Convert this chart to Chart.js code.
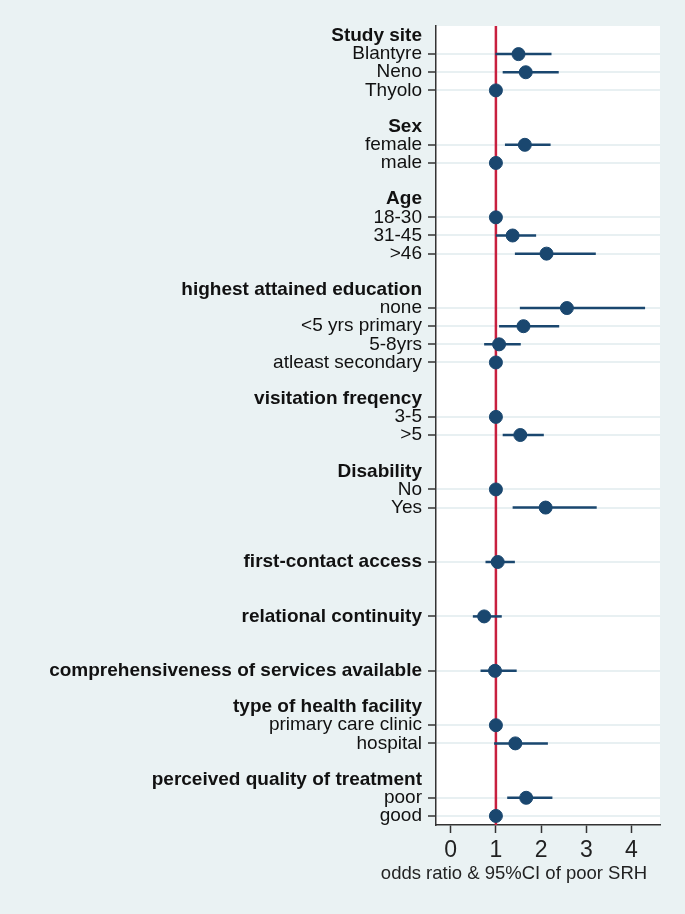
<!DOCTYPE html>
<html>
<head>
<meta charset="utf-8">
<script src="https://cdn.jsdelivr.net/npm/chart.js@4"></script>
<style>
  html, body { margin: 0; padding: 0; background: #eaf2f3; }
  #chart { display: block; }
</style>
</head>
<body>
<canvas id="chart" width="685" height="914"></canvas>
<script>
// one entry per row of the plot, '' = empty spacer row
const rowLabels = [
    'Study site', 'Blantyre', 'Neno', 'Thyolo', '',
    'Sex', 'female', 'male', '',
    'Age', '18-30', '31-45', '>46', '',
    'highest attained education', 'none', '<5 yrs primary', '5-8yrs', 'atleast secondary', '',
    'visitation freqency', '3-5', '>5', '',
    'Disability', 'No', 'Yes', '', '',
    'first-contact access', '', '',
    'relational continuity', '', '',
    'comprehensiveness of services available', '',
    'type of health facility', 'primary care clinic', 'hospital', '',
    'perceived quality of treatment', 'poor', 'good'
]

const boldLabels = [
    'Study site', 'Sex', 'Age', 'highest attained education', 'visitation freqency',
    'Disability', 'first-contact access', 'relational continuity',
    'comprehensiveness of services available', 'type of health facility',
    'perceived quality of treatment'
]

const oddsRatio = [
    null, 1.50, 1.66, 1.00, null,
    null, 1.64, 1.00, null,
    null, 1.00, 1.37, 2.12, null,
    null, 2.57, 1.61, 1.07, 1.00, null,
    null, 1.00, 1.54, null,
    null, 1.00, 2.10, null, null,
    1.04, null, null,
    0.74, null, null,
    0.98, null,
    null, 1.00, 1.43, null,
    null, 1.67, 1.00
]

const ciLower = [
    null, 0.99, 1.15, null, null,
    null, 1.20, null, null,
    null, null, 1.00, 1.42, null,
    null, 1.53, 1.07, 0.74, null, null,
    null, null, 1.15, null,
    null, null, 1.37, null, null,
    0.77, null, null,
    0.49, null, null,
    0.66, null,
    null, null, 0.96, null,
    null, 1.25, null
]

const ciUpper = [
    null, 2.23, 2.39, null, null,
    null, 2.21, null, null,
    null, null, 1.89, 3.21, null,
    null, 4.30, 2.40, 1.55, null, null,
    null, null, 2.06, null,
    null, null, 3.23, null, null,
    1.42, null, null,
    1.13, null, null,
    1.46, null,
    null, null, 2.15, null,
    null, 2.25, null
]

const xTicks = [0, 1, 2, 3, 4]
const xTitle = 'odds ratio & 95%CI of poor SRH'

const navy = '#1a476f'
const font = 'Liberation Sans, Arial, Helvetica, sans-serif'
const yMin = -0.55, yMax = 43.5

const hasData = i => oddsRatio[i] !== null && oddsRatio[i] !== undefined

const ciSets = []
rowLabels.forEach((label, i) => {
    if (ciLower[i] !== null) {
        ciSets.push({
            type: 'line',
            data: [{ x: ciLower[i], y: i }, { x: ciUpper[i], y: i }],
            borderColor: navy,
            borderWidth: 2.5,
            pointRadius: 0,
            order: 1
        })
    }
})

const pointData = []
rowLabels.forEach((label, i) => {
    if (hasData(i)) pointData.push({ x: oddsRatio[i], y: i })
})

const plotBackground = {
    id: 'plotBackground',
    beforeDraw: chart => {
        const { ctx, chartArea: a } = chart
        ctx.save()
        ctx.fillStyle = '#ffffff'
        ctx.fillRect(a.left, a.top, a.right - a.left, a.bottom - a.top)
        ctx.restore()
    },
    afterDraw: chart => {
        const { ctx } = chart
        ctx.save()
        ctx.fillStyle = '#222'
        ctx.font = '18.5px ' + font
        ctx.textAlign = 'center'
        ctx.textBaseline = 'middle'
        ctx.fillText(xTitle, 514, 874)
        ctx.restore()
    }
}

const ctx = document.getElementById('chart').getContext('2d')
new Chart(ctx, {
    type: 'scatter',
    data: {
        datasets: [
            {
                data: pointData,
                backgroundColor: navy,
                borderColor: navy,
                pointRadius: 6.5,
                pointHoverRadius: 6.5,
                order: 0
            },
            ...ciSets,
            {
                type: 'line',
                data: [{ x: 1, y: yMin }, { x: 1, y: yMax }],
                borderColor: '#c8203f',
                borderWidth: 2.5,
                pointRadius: 0,
                order: 2
            }
        ]
    },
    options: {
        responsive: false,
        animation: false,
        layout: { padding: { top: 26, right: 25, bottom: 10, left: 0 } },
        plugins: {
            legend: { display: false },
            tooltip: { enabled: false }
        },
        scales: {
            x: {
                type: 'linear',
                min: -0.325,
                max: 4.63,
                afterBuildTicks: scale => {
                    scale.ticks = xTicks.map(v => ({ value: v }))
                },
                afterFit: scale => { scale.height = 79 },
                grid: {
                    drawOnChartArea: false,
                    drawTicks: true,
                    tickLength: 8,
                    tickColor: '#333',
                    tickWidth: 1.5
                },
                border: { color: '#333', width: 1.5 },
                ticks: {
                    color: '#222',
                    padding: 4,
                    font: { family: font, size: 23 }
                }
            },
            y: {
                type: 'linear',
                reverse: true,
                min: yMin,
                max: yMax,
                afterBuildTicks: scale => {
                    scale.ticks = rowLabels
                        .map((l, i) => ({ value: i, label: l }))
                        .filter(t => t.label !== '')
                },
                afterFit: scale => { scale.width = 436 },
                grid: {
                    color: c => hasData(c.tick?.value) ? '#e8f0f2' : 'rgba(0,0,0,0)',
                    lineWidth: 2,
                    tickColor: c => hasData(c.tick?.value) ? '#333' : 'rgba(0,0,0,0)',
                    tickLength: 8,
                    tickWidth: 1.5
                },
                border: { color: '#333', width: 1.5 },
                ticks: {
                    autoSkip: false,
                    color: '#111',
                    padding: 6,
                    callback: (v) => rowLabels[v],
                    font: c => ({
                        family: font,
                        size: 19,
                        lineHeight: 0.95,
                        weight: boldLabels.includes(rowLabels[c.tick?.value]) ? 'bold' : 'normal'
                    })
                }
            }
        }
    },
    plugins: [plotBackground]
})
</script>
</body>
</html>
